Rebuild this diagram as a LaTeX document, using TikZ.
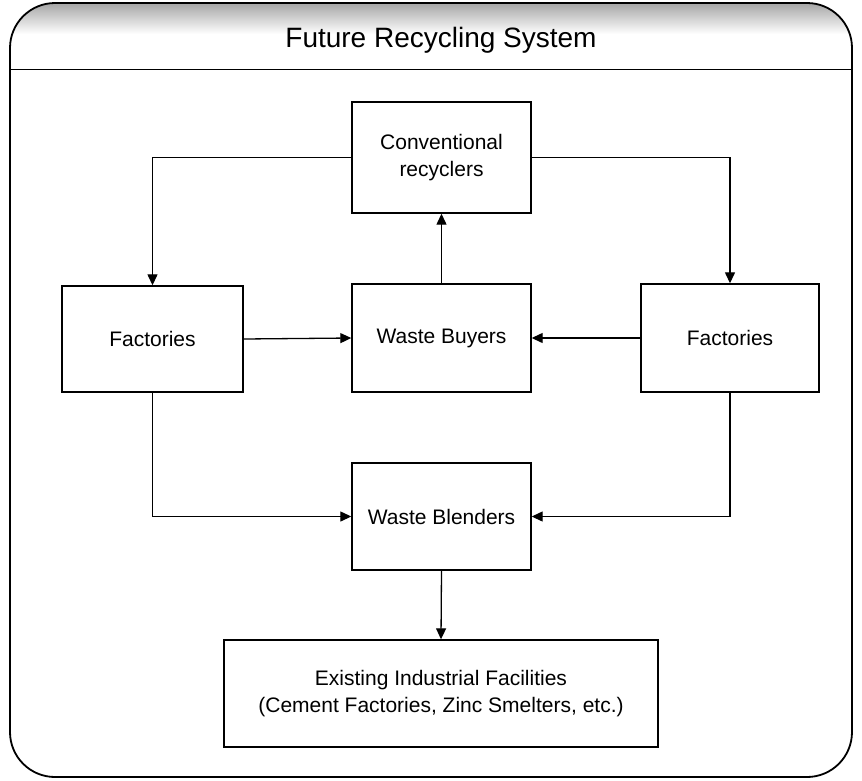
\documentclass[tikz,border=0pt]{standalone}
\usepackage{fontspec}
\setmainfont{Liberation Sans}
\usetikzlibrary{arrows.meta}
\begin{document}
\begin{tikzpicture}[x=1pt,y=-1pt,
  box/.style={draw=black,line width=1.4pt,align=center,inner sep=0pt,
    font=\fontsize{21}{27}\selectfont,text=black},
  conn/.style={line width=1.3pt,draw=black},
  arr/.style={conn,-{Triangle[length=11pt,width=10pt]}},
  titletext/.style={font=\fontsize{28}{32}\selectfont,text=black,inner sep=0pt}]
\useasboundingbox (0,0) rectangle (862,780);
\fill[white] (0,0) rectangle (862,780);
% title band shading
\begin{scope}
  \clip[rounded corners=45pt] (10,3) rectangle (852,777);
  \shade[top color=black!35,bottom color=white] (10,3) rectangle (852,34);
\end{scope}
% frame
\draw[line width=1.8pt,rounded corners=45pt] (10,3) rectangle (852,777);
\coordinate (tl) at (10,69);
\coordinate (tr) at (852,69);
\draw[line width=1pt] (tl) -- (tr);
\node[titletext] (title) at (441,40) {Future Recycling System};
% boxes
\node[box,minimum width=179pt,minimum height=111pt] (conv) at (441.5,157.5) {Conventional\\recyclers};
\node[box,minimum width=179pt,minimum height=108pt] (wb) at (441.5,338) {Waste Buyers};
\node[box,minimum width=181pt,minimum height=106pt] (fl) at (152.5,339) {Factories};
\node[box,minimum width=178pt,minimum height=108pt] (fr) at (730,338) {Factories};
\node[box,minimum width=179pt,minimum height=107pt] (wbl) at (441.5,516.5) {Waste Blenders};
\node[box,minimum width=434pt,minimum height=107pt] (ex) at (441,693.5) {Existing Industrial Facilities\\(Cement Factories, Zinc Smelters, etc.)};
% connectors
\draw[arr] (conv.west) -| (fl.north);
\draw[arr] (conv.east) -| (fr.north);
\draw[arr] (wb.north) -- (conv.south);
\draw[arr] (fl.east) -- (wb.west);
\draw[arr] (fr.west) -- (wb.east);
\draw[arr] (fl.south) |- (wbl.west);
\draw[arr] (fr.south) |- (wbl.east);
\draw[arr] (wbl.south) -- (ex.north);
\end{tikzpicture}
\end{document}
